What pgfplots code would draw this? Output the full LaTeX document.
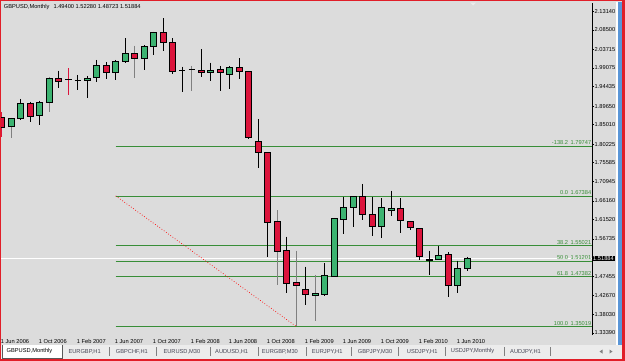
\documentclass[border=0pt]{standalone}
\usepackage{pgfplots}
\usepackage{pgfplotstable}
\pgfplotsset{compat=1.18}
\usepackage{fontspec}
\setmainfont{Liberation Sans}
\definecolor{chartbg}{RGB}{220,220,220}
\definecolor{cgreen}{RGB}{60,179,113}
\definecolor{cred}{RGB}{220,20,60}
\definecolor{fibgreen}{RGB}{56,142,56}
\definecolor{framered}{RGB}{225,30,40}
\definecolor{tabbg}{RGB}{236,236,236}
\definecolor{tabtext}{RGB}{70,70,85}
\definecolor{stripblue}{RGB}{90,150,215}
\pgfplotstableread{
m o h l c w
0 1.8694 1.8818 1.8200 1.8446 2
1 1.8453 1.8680 1.8166 1.8661 1
2 1.8661 1.9140 1.8619 1.9033 0
3 1.9033 1.9073 1.8577 1.8701 0
4 1.8726 1.9098 1.8495 1.9058 0
5 1.9048 1.9693 1.8825 1.9653 1
6 1.9643 1.9841 1.9420 1.9569 0
7 1.9635 1.9901 1.9239 1.9620 2
8 1.9611 1.9735 1.9363 1.9611 0
9 1.9611 1.9710 1.9172 1.9653 0
10 1.9678 2.0107 1.9569 1.9983 0
11 1.9975 2.0057 1.9643 1.9792 0
12 1.9792 2.0107 1.9611 2.0074 0
13 2.0065 2.0645 2.0025 2.0273 0
14 2.0273 2.0461 1.9653 2.0149 1
15 2.0149 2.0478 1.9859 2.0454 0
16 2.0436 2.0808 2.0231 2.0793 0
17 2.0788 2.1140 2.0330 2.0553 0
18 2.0545 2.0645 1.9755 1.9817 0
19 1.9851 1.9941 1.9321 1.9851 0
20 1.9866 1.9958 1.9346 1.9866 1
21 1.9851 2.0379 1.9693 1.9809 0
22 1.9809 2.0040 1.9586 1.9859 0
23 1.9866 1.9958 1.9346 1.9792 0
24 1.9752 1.9958 1.9388 1.9916 0
25 1.9926 2.0149 1.9628 1.9827 0
26 1.9827 1.9834 1.8148 1.8180 0
27 1.8099 1.8644 1.7437 1.7819 0
28 1.7819 1.7826 1.5230 1.6073 0
29 1.6098 1.6388 1.4529 1.5354 1
30 1.5379 1.5726 1.4323 1.4571 0
31 1.4596 1.5379 1.35019 1.4521 1
32 1.4422 1.4983 1.4033 1.4306 0
33 1.4264 1.4777 1.3644 1.4323 1
34 1.4306 1.5062 1.4264 1.4777 0
35 1.4752 1.6190 1.4745 1.6182 0
36 1.6165 1.6718 1.5786 1.6455 0
37 1.6455 1.6730 1.5974 1.6718 0
38 1.6718 1.7033 1.6140 1.6282 0
39 1.6282 1.6718 1.5751 1.5992 0
40 1.5992 1.6678 1.5701 1.6455 0
41 1.6388 1.6867 1.6247 1.6430 0
42 1.6430 1.6678 1.5811 1.6140 0
43 1.6115 1.6120 1.5892 1.5959 0
44 1.5934 1.5940 1.5149 1.5230 0
45 1.5149 1.5379 1.4777 1.5160 0
46 1.5166 1.5503 1.5149 1.5255 0
47 1.5297 1.5347 1.4224 1.4529 0
48 1.4529 1.5131 1.4338 1.4943 0
49 1.49400 1.52280 1.48723 1.51884 0
}\candles
\pgfmathsetmacro{\kk}{332/(2.15197-1.32895)}
\newcommand{\fibline}[1]{\addplot[fibgreen, line width=0.7pt] coordinates {(12,#1) (62.137,#1)};}
\newcommand{\fiblabel}[2]{\node[fibgreen, anchor=south east, inner sep=0.6pt, yshift=0.4pt] at (axis cs:62.137,#2) {#1\hspace{2.5pt}#2};}
\begin{document}
\begin{tikzpicture}[x=1pt,y=1pt,font=\fontsize{5.7}{6.8}\selectfont]
\useasboundingbox (0,0) rectangle (625,360);
\fill[chartbg] (0,0) rectangle (625,360);
% tab bar
\fill[tabbg] (0,1) rectangle (625,15);
\fill[white] (2,2) rectangle (62.3,15);
\draw[gray!70!black, line width=0.6pt] (2,15) -- (2,2) -- (62.3,2) -- (62.3,15);
\node[anchor=west, inner sep=0pt, black] at (6.5,8.5) {GBPUSD,Monthly};
\foreach \xx/\tt in {68.3/{EURGBP,H1},115.7/{GBPCHF,H1},163.3/{EURUSD,M30},215/{AUDUSD,H1},261.7/{EURGBP,M30},311.7/{EURJPY,H1},357.7/{GBPJPY,M30},406.7/{USDJPY,H1},450.7/{USDJPY,Monthly},510/{AUDJPY,H1}}
  {\node[anchor=west, inner sep=0pt, text=tabtext] at (\xx,8.5) {\tt};}
\foreach \xx in {109,156.7,210,258.3,306.7,351.7,398.3,445,504,550}
  {\draw[gray, line width=0.6pt] (\xx,4) -- (\xx,13);}
\fill[gray] (599.5,8.5) -- (602.5,10.5) -- (602.5,6.5) -- cycle;
\fill[gray] (612.5,8.5) -- (609.5,10.5) -- (609.5,6.5) -- cycle;
% right strip
\fill[white] (616,15) rectangle (618,358);
\fill[stripblue] (618,15) rectangle (621.5,358);
\begin{axis}[at={(0pt,25pt)}, anchor=south west, scale only axis,
  width=592pt, height=332pt,
  xmin=-0.179, xmax=62.137, ymin=1.32895, ymax=2.15197,
  clip=false,
  axis x line*=bottom, axis y line*=right,
  x axis line style={draw=none},
  y axis line style={black, line width=0.8pt},
  xtick={0,4,...,48},
  xticklabels={1 Jun 2006,1 Oct 2006,1 Feb 2007,1 Jun 2007,1 Oct 2007,1 Feb 2008,1 Jun 2008,1 Oct 2008,1 Feb 2009,1 Jun 2009,1 Oct 2009,1 Feb 2010,1 Jun 2010},
  x tick style={draw=none},
  xticklabel style={anchor=north west, inner sep=0pt, xshift=-1pt, yshift=-2.5pt, font=\fontsize{5.7}{6.8}\selectfont},
  ytick={2.13140,2.08500,2.03715,1.99075,1.94435,1.89650,1.85010,1.80225,1.75585,1.70945,1.66160,1.61520,1.56735,1.47455,1.42670,1.38030,1.33390},
  yticklabels={2.13140,2.08500,2.03715,1.99075,1.94435,1.89650,1.85010,1.80225,1.75585,1.70945,1.66160,1.61520,1.56735,1.47455,1.42670,1.38030,1.33390},
  y tick style={black, line width=0.6pt},
  tick align=outside, major tick length=2pt,
  yticklabel style={anchor=west, inner sep=0pt, xshift=0.5pt, font=\fontsize{5.7}{6.8}\selectfont},
  /pgf/number format/assume math mode=true,
]
\addplot[white, line width=0.7pt] coordinates {(-0.179,1.51884) (62.137,1.51884)};
\fibline{1.79747}
\fibline{1.67384}
\fibline{1.55021}
\fibline{1.51201}
\fibline{1.47382}
\fibline{1.35019}
\addplot[red, dotted, line width=0.7pt] coordinates {(12,1.67384) (31,1.35019)};
\addplot[only marks, mark=*, mark size=0.5pt, scatter,
  visualization depends on={(\thisrow{o}-\thisrow{h})*\kk \as \yo},
  visualization depends on={(\thisrow{c}-\thisrow{h})*\kk \as \yc},
  visualization depends on={(\thisrow{l}-\thisrow{h})*\kk \as \yl},
  visualization depends on={\thisrow{w} \as \cw},
  scatter/@pre marker code/.code={%
    \ifdim\cw pt<0.5pt \def\wc{black}\else\ifdim\cw pt<1.5pt \def\wc{gray}\else \def\wc{cred}\fi\fi
    \draw[\wc, line width=0.9pt] (0pt,0pt) -- (0pt,\yl pt);
    \ifdim\yc pt>\yo pt
      \draw[black, fill=cgreen, line width=0.8pt] (-3pt,\yo pt) rectangle (3pt,\yc pt);
    \else\ifdim\yc pt<\yo pt
      \draw[black, fill=cred, line width=0.8pt] (-3pt,\yo pt) rectangle (3pt,\yc pt);
    \else
      \draw[black, line width=0.9pt] (-3pt,\yo pt) -- (3pt,\yo pt);
    \fi\fi
    \scope[opacity=0]%
  },
  scatter/@post marker code/.code={\endscope},
] table[x=m, y=h] {\candles};
\fiblabel{-138.2}{1.79747}
\fiblabel{0.0}{1.67384}
\fiblabel{38.2}{1.55021}
\fiblabel{50.0}{1.51201}
\fiblabel{61.8}{1.47382}
\fiblabel{100.0}{1.35019}
\node[anchor=west, fill=black, text=white, inner xsep=1pt, inner ysep=0.5pt, minimum height=5.8pt] at (axis cs:62.137,1.51884) {1.51884};
\end{axis}
\node[anchor=west, inner sep=0pt] at (3.7,353.3) {GBPUSD,Monthly\hspace{4pt}1.49400 1.52280 1.48723 1.51884};
\fill[white!85!gray] (470,357.5) -- (476,357.5) -- (473,354.5) -- cycle;
% red frame
\draw[framered, line width=2pt] (0,0) rectangle (625,360);
\fill[framered] (621.5,0) rectangle (625,360);
\end{tikzpicture}
\end{document}
